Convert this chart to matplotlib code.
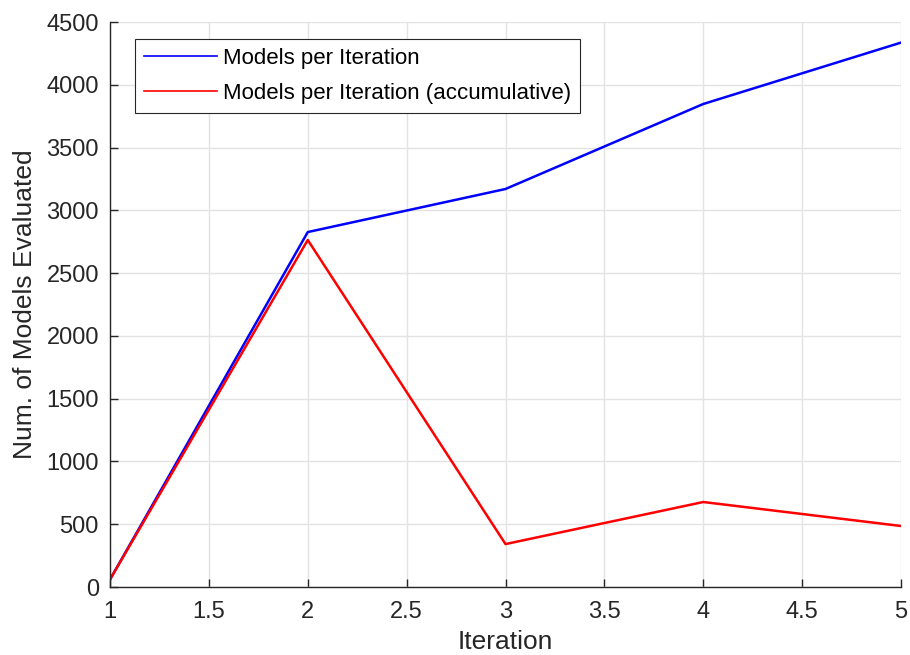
import numpy as np
import matplotlib
matplotlib.use('Agg')
import matplotlib.pyplot as plt

iterations = [1, 2, 3, 4, 5]
models_per_iter = [60, 2827, 3170, 3847, 4336]
models_accum = [60, 2764, 342, 677, 486]

plt.rcParams['font.family'] = ['Liberation Sans', 'DejaVu Sans']

fig = plt.figure(figsize=(9.1, 6.55), dpi=100)
ax = fig.add_axes([0.1209, 0.1038, 0.8692, 0.8626])

ax.plot(iterations, models_per_iter, color='#0000ff', lw=1.8, label='Models per Iteration')
ax.plot(iterations, models_accum, color='#ff0000', lw=1.8, label='Models per Iteration (accumulative)')

ax.set_xlim(1, 5)
ax.set_ylim(0, 4500)
ax.set_xticks(np.arange(1, 5.01, 0.5))
ax.set_xticklabels(['1', '1.5', '2', '2.5', '3', '3.5', '4', '4.5', '5'])
ax.set_yticks(np.arange(0, 4501, 500))

ax.grid(True, color='#e3e3e3', lw=1)
ax.set_axisbelow(True)
for s in ['top', 'right']:
    ax.spines[s].set_visible(False)
for s in ['left', 'bottom']:
    ax.spines[s].set_color('#262626')
    ax.spines[s].set_linewidth(1)
ax.tick_params(direction='in', length=6, width=1, color='#262626',
               labelsize=17, labelcolor='#262626')
ax.tick_params(axis='x', pad=10)
ax.tick_params(axis='y', pad=8)

ax.set_xlabel('Iteration', fontsize=19, color='#262626', labelpad=5)
ax.set_ylabel('Num. of Models Evaluated', fontsize=19, color='#262626', labelpad=7)

leg = ax.legend(loc='upper left', bbox_to_anchor=(0.0316, 0.970), borderaxespad=0,
                fontsize=16, fancybox=False, framealpha=1, edgecolor='#262626',
                handlelength=3.3, handletextpad=0.25, borderpad=0.4, labelspacing=0.62)
leg.get_frame().set_linewidth(0.8)
for line in leg.get_lines():
    line.set_linewidth(1.2)

fig.savefig('out.png', dpi=100)
